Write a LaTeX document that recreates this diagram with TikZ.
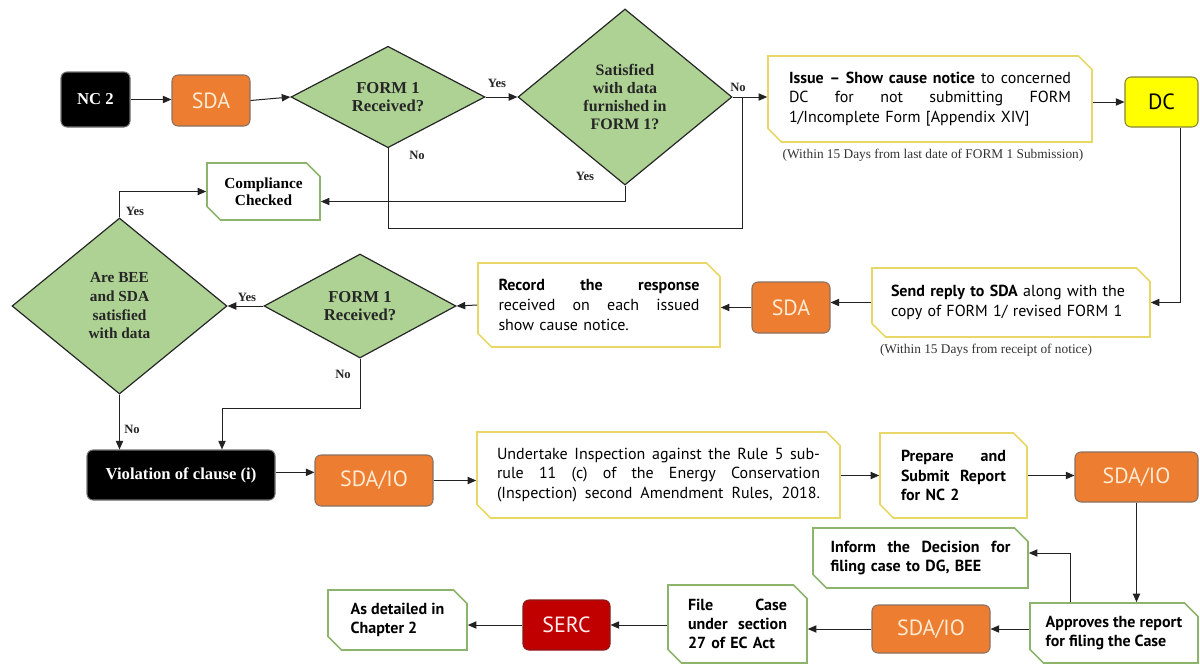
\documentclass[tikz,border=0pt]{standalone}
\usepackage{fontspec}
\setmainfont{Liberation Serif}
\newfontfamily\sfont{PT Sans}
\usetikzlibrary{shapes.geometric,shapes.misc,arrows.meta}
\definecolor{orng}{HTML}{ED7D31}
\definecolor{obord}{HTML}{8A7060}
\definecolor{ocream}{HTML}{FDEBD3}
\definecolor{dgreen}{HTML}{AED294}
\definecolor{ybord}{HTML}{E8D867}
\definecolor{gbord}{HTML}{8DB46C}
\definecolor{dcyel}{HTML}{FFFF00}
\definecolor{dcbord}{HTML}{85853A}
\definecolor{sercred}{HTML}{C00000}
\definecolor{sercbord}{HTML}{8B1A1A}
\definecolor{lnc}{HTML}{222222}
\newcommand\jl[2]{\makebox[#1][s]{\spaceskip=0pt\xspaceskip=0pt #2}}
\begin{document}
\begin{tikzpicture}[x=0.75pt,y=-0.75pt,
  arr/.style={draw=lnc, line width=0.75pt, -{Triangle[length=6.5pt,width=5.5pt]}},
  ln/.style={draw=lnc, line width=0.75pt},
  dia/.style={diamond, draw=black!85, line width=0.9pt, fill=dgreen, inner sep=0pt, align=center, text=black!85},
  obox/.style={rectangle, rounded corners=4.5pt, fill=orng, draw=obord, line width=0.8pt, text=ocream, font=\sfont\fontsize{16.5}{18}\selectfont},
  blk/.style={rectangle, rounded corners=4.5pt, fill=black, draw=black!55, line width=0.8pt, text=white, font=\bfseries\fontsize{12.5}{15}\selectfont},
  chbox/.style={chamfered rectangle, chamfered rectangle corners={north east,south west}, chamfered rectangle xsep=7pt, fill=white, line width=1.2pt, inner sep=0pt, font=\sfont\fontsize{12}{14.5}\selectfont, align=left},
  ybox/.style={chbox, draw=ybord},
  gbox/.style={chbox, draw=gbord},
  lbl/.style={font=\bfseries\fontsize{9.5}{11}\selectfont, inner sep=1pt, text=black!85},
  captxt/.style={font=\fontsize{10}{12}\selectfont, inner sep=1pt, text=black!80}
]
\useasboundingbox (0,0) rectangle (1200,664);

% nodes
\node[blk, minimum width=51.75pt, minimum height=41.25pt] (nc2) at (95.5,99.5) {NC 2};
\node[obox, minimum width=58.5pt, minimum height=38.25pt] (sda1) at (211,100.5) {SDA};
\node[dia, minimum width=145.5pt, minimum height=72.75pt, font=\bfseries\fontsize{12.5}{13.5}\selectfont] (d1) at (388,97) {FORM 1\\Received?};
\node[dia, minimum width=160.5pt, minimum height=132pt, font=\bfseries\fontsize{12}{13.5}\selectfont] (d2) at (625,97) {Satisfied\\with data\\furnished in\\FORM 1?};
\node[ybox, minimum width=243pt, minimum height=64.5pt, text width=211.5pt] (issue) at (930,99)
  {\jl{211.5pt}{\textbf{Issue \textendash\ Show cause notice} to concerned}\\\jl{211.5pt}{DC for not submitting FORM}\\1/Incomplete Form [Appendix XIV]};
\node[captxt] (cap1) at (933,155) {(Within 15 Days from last date of FORM 1 Submission)};
\node[rectangle, rounded corners=4.5pt, fill=dcyel, draw=dcbord, line width=0.8pt, font=\sfont\fontsize{16.5}{18}\selectfont, minimum width=54.75pt, minimum height=37.5pt] (dc) at (1161.5,102) {DC};

\node[ybox, minimum width=208.5pt, minimum height=51.75pt, text width=180pt] (send) at (1011,302.5)
  {\textbf{Send reply to SDA} along with the\\copy of FORM 1/ revised FORM 1};
\node[captxt] (cap2) at (986,350) {(Within 15 Days from receipt of notice)};
\node[obox, minimum width=58.5pt, minimum height=38.25pt] (sda2) at (791,307.5) {SDA};
\node[ybox, minimum width=181.5pt, minimum height=63pt, text width=150.75pt, font=\sfont\fontsize{12}{15}\selectfont] (record) at (599,305)
  {\jl{150.75pt}{\textbf{Record the response}}\\\jl{150.75pt}{received on each issued}\\show cause notice.};
\node[dia, minimum width=144pt, minimum height=78pt, font=\bfseries\fontsize{12.5}{13.5}\selectfont] (d3) at (360,306) {FORM 1\\Received?};
\node[dia, minimum width=161.25pt, minimum height=132pt, font=\bfseries\fontsize{11.5}{14}\selectfont] (d4) at (119.5,306) {Are BEE\\and SDA\\satisfied\\with data};
\node[gbox, minimum width=84.75pt, minimum height=42.75pt, align=center, font=\bfseries\fontsize{11.5}{13}\selectfont] (comp) at (263.5,191.5) {Compliance\\Checked};

\node[blk, minimum width=141pt, minimum height=37.5pt] (viol) at (181,475) {\raisebox{2pt}{Violation of clause (i)}};
\node[obox, minimum width=88.5pt, minimum height=38.25pt] (sdaio1) at (374,480.5) {SDA/IO};
\node[ybox, minimum width=272.25pt, minimum height=64.5pt, text width=242.25pt] (under) at (658.5,475)
  {\jl{242.25pt}{Undertake Inspection against the Rule 5 sub-}\\\jl{242.25pt}{rule 11 (c) of the Energy Conservation}\\\jl{242.25pt}{(Inspection) second Amendment Rules, 2018.}};
\node[ybox, minimum width=110.25pt, minimum height=63.75pt, text width=78.75pt, font=\sfont\bfseries\fontsize{12}{14.5}\selectfont] (prep) at (953.5,475.5)
  {\jl{78.75pt}{Prepare and}\\\jl{78.75pt}{Submit Report}\\for NC 2};
\node[obox, minimum width=92.25pt, minimum height=37.5pt] (sdaio2) at (1136.5,477) {SDA/IO};

\node[gbox, minimum width=126pt, minimum height=45pt, font=\sfont\bfseries\fontsize{12}{14.5}\selectfont] (appr) at (1114,633) {Approves the report\\for filing the Case};
\node[gbox, minimum width=161.25pt, minimum height=45pt, text width=135pt, font=\sfont\bfseries\fontsize{12}{14.5}\selectfont] (inform) at (920.5,558)
  {\jl{135pt}{Inform the Decision for}\\filing case to DG, BEE};
\node[obox, minimum width=88.5pt, minimum height=36pt] (sdaio3) at (931,629) {SDA/IO};
\node[gbox, minimum width=104.25pt, minimum height=58.5pt, text width=74.25pt, font=\sfont\bfseries\fontsize{12}{14.5}\selectfont] (file) at (737.5,624)
  {\jl{74.25pt}{File Case}\\\jl{74.25pt}{under section}\\27 of EC Act};
\node[obox, fill=sercred, draw=sercbord, text=white!92!red, minimum width=65.25pt, minimum height=37.5pt] (serc) at (566.5,625) {SERC};
\node[gbox, minimum width=104.25pt, minimum height=45pt, font=\sfont\bfseries\fontsize{12}{14.5}\selectfont] (asdet) at (397.5,620) {As detailed in\\Chapter 2};

% labels
\node[lbl] (l1) at (497,83) {Yes};
\node[lbl] (l2) at (738,87) {No};
\node[lbl] (l3) at (417,155) {No};
\node[lbl] (l4) at (585,176) {Yes};
\node[lbl] (l5) at (135,211) {Yes};
\node[lbl] (l6) at (247,297) {Yes};
\node[lbl] (l7) at (343,374) {No};
\node[lbl] (l8) at (132,429) {No};

% coordinates
\coordinate (j1) at (742,97);
\coordinate (j2) at (222,408);

% connectors
\draw[arr] (nc2.east) -- (sda1.west |- nc2.east);
\draw[arr] (sda1.east) -- (d1.west);
\draw[arr] (d1.east) -- (d2.west);
\draw[arr] (d2.east) -- (issue.west |- d2.east);
\draw[ln] (d1.south) |- (388,228) -| (j1);
\draw[arr] (d2.south) |- ([yshift=-7.5pt]comp.east);
\draw[arr] (d4.north) |- (comp.west);
\draw[arr] (issue.east |- dc.west) -- (dc.west);
\draw[arr] ([xshift=13.9pt]dc.south) |- (send.east);
\draw[arr] (send.west) -- (send.west -| sda2.east);
\draw[arr] (sda2.west) -- (sda2.west -| record.east);
\draw[arr] (record.west) -- (d3.east);
\draw[arr] (d3.west) -- (d4.east);
\draw[arr] (d3.south) |- (j2) -- (j2 |- viol.north);
\draw[arr] (d4.south) -- (d4.south |- viol.north);
\draw[arr] ([yshift=2pt]viol.east) -- ([yshift=2pt]viol.east -| sdaio1.west);
\draw[arr] (sdaio1.east) -- (sdaio1.east -| under.west);
\draw[arr] (under.east |- prep.west) -- (prep.west);
\draw[arr] (prep.east) -- (prep.east -| sdaio2.west);
\draw[arr] (sdaio2.south) -- (sdaio2.south |- appr.north);
\draw[arr] ([xshift=-33pt]appr.north) |- ([yshift=3.75pt]inform.east);
\draw[arr] (appr.west |- sdaio3.east) -- (sdaio3.east);
\draw[arr] (sdaio3.west) -- (sdaio3.west -| file.east);
\draw[arr] (file.west |- serc.east) -- (serc.east);
\draw[arr] (serc.west) -- (serc.west -| asdet.east);
\end{tikzpicture}
\end{document}
